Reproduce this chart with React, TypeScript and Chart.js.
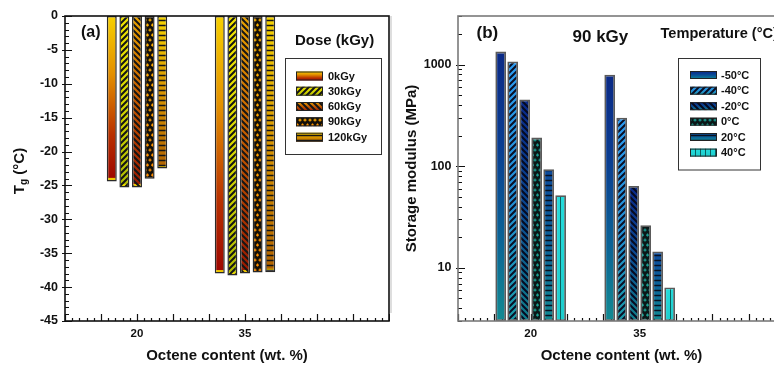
import React, { useEffect, useRef } from 'react';
import { Chart, registerables } from 'chart.js';

Chart.register(...registerables);

const FONT = '"Liberation Sans", Arial, Helvetica, sans-serif';

// ---------------- data ----------------
const octene = [20, 35];
const octeneMin = 10;
const octeneMax = 55;

const doseLabels = ['0kGy', '30kGy', '60kGy', '90kGy', '120kGy'];
const tg0kGy = [-24.4, -38.0];
const tg30kGy = [-25.3, -38.3];
const tg60kGy = [-25.3, -38.0];
const tg90kGy = [-24.0, -37.85];
const tg120kGy = [-22.5, -37.8];
const tgMin = -45;
const tgMax = 0;
const tgStep = 5;

const tempLabels = ['-50°C', '-40°C', '-20°C', '0°C', '20°C', '40°C'];
const modM50 = [1340, 793];
const modM40 = [1070, 299];
const modM20 = [453, 64];
const mod0 = [191, 26.2];
const mod20 = [93.4, 14.5];
const mod40 = [51.9, 6.4];
const modTicks = [10, 100, 1000];
const modMin = 3;
const modMax = 3000;

// ---------------- fills ----------------
type FillSpec = {
  kind: 'solid' | 'slash' | 'back' | 'dots' | 'hlines' | 'vlines';
  stops: [number, string][];
  ink?: string;
  lw?: number;
  gap?: number;
  tip?: string;
  bg?: string;
};

const doseFills: FillSpec[] = [
  { kind: 'solid', stops: [[0, '#f7d000'], [0.35, '#e39000'], [0.72, '#b83000'], [1, '#9c0500']], tip: '#f0c800' },
  { kind: 'slash', stops: [[0, '#f2e400'], [0.5, '#d8d800'], [1, '#b0bc00']], ink: '#151515', lw: 2, gap: 6, tip: '#f0e000' },
  { kind: 'back', stops: [[0, '#eaa400'], [0.45, '#c86000'], [1, '#9a1800']], ink: '#151515', lw: 2, gap: 6, tip: '#f0c800' },
  { kind: 'dots', stops: [[0, '#ffb400'], [1, '#ff8c00']], bg: '#151008' },
  { kind: 'hlines', stops: [[0, '#f6d400'], [0.5, '#d89400'], [1, '#b06200']], ink: '#151515', lw: 1.5, gap: 5, tip: '#e8c000' },
];

const tempFills: FillSpec[] = [
  { kind: 'solid', stops: [[0, '#0b2a86'], [0.35, '#0a3e92'], [0.7, '#0b6496'], [1, '#138a92']] },
  { kind: 'slash', stops: [[0, '#2c9cf2'], [0.55, '#2290d4'], [1, '#1a9aa6']], ink: '#0a0f25', lw: 2, gap: 6 },
  { kind: 'back', stops: [[0, '#0a2a8a'], [0.5, '#0b4a92'], [1, '#11808c']], ink: '#050a20', lw: 2, gap: 6 },
  { kind: 'dots', stops: [[0, '#1a9a92'], [1, '#1aa292']], bg: '#0a1818' },
  { kind: 'hlines', stops: [[0, '#0c4a9c'], [0.5, '#0b6298'], [1, '#118a92']], ink: '#081020', lw: 1.5, gap: 5 },
  { kind: 'vlines', stops: [[0, '#24dcdc'], [1, '#1ccccc']], ink: '#0a6060', lw: 1, gap: 5 },
];

const fillCache = new Map<string, CanvasPattern | string>();

function makeFill(chart: any, f: FillSpec, key: string, ya: number, yb: number, useTip: boolean) {
  const top = Math.min(ya, yb);
  const bot = Math.max(ya, yb);
  const k = `${chart.id}|${key}|${top.toFixed(1)}|${bot.toFixed(1)}|${useTip}`;
  const hit = fillCache.get(k);
  if (hit) return hit;
  const w = chart.width;
  const h = chart.height;
  const c = document.createElement('canvas');
  c.width = w;
  c.height = h;
  const g = c.getContext('2d')!;
  const grad = g.createLinearGradient(0, top, 0, Math.max(bot, top + 1));
  f.stops.forEach(([o, col]) => grad.addColorStop(o, col));
  if (f.kind === 'dots') {
    g.fillStyle = f.bg || '#111';
    g.fillRect(0, 0, w, h);
    g.fillStyle = grad;
    const s = 5;
    for (let y = 0, r = 0; y < h + s; y += s, r++) {
      for (let x = (r % 2) * 2.5; x < w + s; x += s) {
        g.fillRect(x - 1.5, y - 0.5, 3, 1.2);
        g.fillRect(x - 0.6, y - 1.5, 1.2, 3);
      }
    }
  } else {
    g.fillStyle = grad;
    g.fillRect(0, 0, w, h);
    if (useTip && f.tip) {
      g.fillStyle = f.tip;
      g.fillRect(0, bot - 3.5, w, 3.5);
    }
    if (f.kind !== 'solid') {
      g.strokeStyle = f.ink || '#111';
      g.lineWidth = f.lw || 1.5;
      const gap = f.gap || 5;
      g.beginPath();
      if (f.kind === 'slash') {
        for (let x = -h; x < w + h; x += gap) { g.moveTo(x, h); g.lineTo(x + h, 0); }
      } else if (f.kind === 'back') {
        for (let x = -h; x < w + h; x += gap) { g.moveTo(x, 0); g.lineTo(x + h, h); }
      } else if (f.kind === 'hlines') {
        for (let y = 0.5; y < h; y += gap) { g.moveTo(0, y); g.lineTo(w, y); }
      } else if (f.kind === 'vlines') {
        for (let x = 0.5; x < w; x += gap) { g.moveTo(x, 0); g.lineTo(x, h); }
      }
      g.stroke();
    }
  }
  const pat = chart.ctx.createPattern(c, 'no-repeat') as CanvasPattern;
  fillCache.set(k, pat);
  return pat;
}

function leftBg(f: FillSpec, key: string) {
  return (ctx: any) => {
    const chart = ctx.chart;
    if (ctx.type !== 'data' || !chart.chartArea || !chart.scales || !chart.scales.y) return f.stops[0][1];
    const ys = chart.scales.y;
    const v = ctx.parsed ? ctx.parsed.y : ctx.raw.y;
    return makeFill(chart, f, key, ys.getPixelForValue(0), ys.getPixelForValue(v), true);
  };
}

function rightBg(f: FillSpec, key: string) {
  return (ctx: any) => {
    const chart = ctx.chart;
    if (ctx.type !== 'data' || !chart.chartArea || !chart.scales || !chart.scales.y) return f.stops[0][1];
    const ys = chart.scales.y;
    const v = ctx.parsed ? ctx.parsed.y : ctx.raw.y;
    return makeFill(chart, f, key, ys.getPixelForValue(v), chart.chartArea.bottom, true);
  };
}

function text(ctx: CanvasRenderingContext2D, s: string, x: number, y: number, size: number, align: CanvasTextAlign = 'left') {
  ctx.font = `bold ${size}px ${FONT}`;
  ctx.fillStyle = '#111';
  ctx.textAlign = align;
  ctx.textBaseline = 'middle';
  ctx.fillText(s, x, y);
}

function zeroPad(s: any) {
  s.paddingTop = 0;
  s.paddingBottom = 0;
  s.paddingLeft = 0;
  s.paddingRight = 0;
}

const tickFont = (size: number) => ({ family: FONT, size, weight: 'bold' as const });

function drawXTicks(ctx: CanvasRenderingContext2D, chart: any) {
  const a = chart.chartArea;
  const xs = chart.scales.x;
  for (let v = octeneMin; v <= octeneMax; v++) {
    const p = Math.round(xs.getPixelForValue(v)) + 0.5;
    const major = v % 5 === 0;
    ctx.moveTo(p, a.bottom);
    ctx.lineTo(p, a.bottom - (major ? 7 : 3));
  }
}

const leftDecor = {
  id: 'leftDecor',
  beforeDatasetsDraw(chart: any) {
    const { ctx, chartArea: a, scales } = chart;
    const ys = scales.y;
    ctx.save();
    ctx.strokeStyle = '#111';
    ctx.lineWidth = 1.2;
    ctx.beginPath();
    for (let v = tgMin; v <= tgMax; v++) {
      const p = Math.round(ys.getPixelForValue(v)) + 0.5;
      const major = v % tgStep === 0;
      ctx.moveTo(a.left - (major ? 3 : 0), p);
      ctx.lineTo(a.left + (major ? 7 : 4), p);
    }
    drawXTicks(ctx, chart);
    ctx.stroke();
    ctx.restore();
  },
  afterDatasetsDraw(chart: any) {
    const { ctx, chartArea: a } = chart;
    ctx.save();
    ctx.strokeStyle = '#111';
    ctx.lineWidth = 1.6;
    ctx.strokeRect(a.left, a.top, a.right - a.left, a.bottom - a.top);
    ctx.restore();
  },
  afterDraw(chart: any) {
    const { ctx, chartArea: a } = chart;
    ctx.save();
    text(ctx, '(a)', 81, 33, 16);
    text(ctx, 'Dose (kGy)', 295, 41, 15);
    ctx.strokeStyle = '#333';
    ctx.lineWidth = 1;
    ctx.strokeRect(285.5, 58.5, 96, 96);
    const rows = [76, 91.2, 106.5, 121.8, 137.2];
    rows.forEach((ry, i) => {
      const sx = 296, sw = 27, sh = 9, sy = ry - 4.5;
      ctx.fillStyle = makeFill(chart, doseFills[i], 'Ld' + i, sy, sy + sh, false) as any;
      ctx.fillRect(sx, sy, sw, sh);
      ctx.strokeStyle = '#222';
      ctx.strokeRect(sx + 0.5, sy + 0.5, sw - 1, sh - 1);
      text(ctx, doseLabels[i], 328, ry + 0.5, 11);
    });
    // x title
    text(ctx, 'Octene content (wt. %)', (a.left + a.right) / 2, 356, 15, 'center');
    // y title with subscript
    ctx.translate(24, 171);
    ctx.rotate(-Math.PI / 2);
    ctx.textBaseline = 'alphabetic';
    ctx.textAlign = 'left';
    ctx.fillStyle = '#111';
    ctx.font = `bold 15px ${FONT}`;
    const wT = ctx.measureText('T').width;
    const wR = ctx.measureText(' (°C)').width;
    ctx.font = `bold 10px ${FONT}`;
    const wg = ctx.measureText('g').width;
    let x = -(wT + wg + wR) / 2;
    ctx.font = `bold 15px ${FONT}`;
    ctx.fillText('T', x, 0);
    x += wT;
    ctx.font = `bold 10px ${FONT}`;
    ctx.fillText('g', x, 3);
    x += wg;
    ctx.font = `bold 15px ${FONT}`;
    ctx.fillText(' (°C)', x, 0);
    ctx.restore();
  },
};

const rightDecor = {
  id: 'rightDecor',
  beforeDatasetsDraw(chart: any) {
    const { ctx, chartArea: a, scales } = chart;
    const ys = scales.y;
    ctx.save();
    ctx.strokeStyle = '#111';
    ctx.lineWidth = 1.2;
    ctx.beginPath();
    for (const d of [1, 10, 100, 1000]) {
      for (let m = 1; m <= 9; m++) {
        const v = m * d;
        if (v < modMin || v > modMax) continue;
        const p = Math.round(ys.getPixelForValue(v)) + 0.5;
        const major = m === 1;
        ctx.moveTo(a.left - (major ? 2 : 0), p);
        ctx.lineTo(a.left + (major ? 7 : 4), p);
      }
    }
    drawXTicks(ctx, chart);
    ctx.stroke();
    ctx.restore();
  },
  afterDatasetsDraw(chart: any) {
    const { ctx, chartArea: a } = chart;
    ctx.save();
    ctx.strokeStyle = '#7a7a7a';
    ctx.lineWidth = 1.6;
    ctx.strokeRect(a.left, a.top, a.right - a.left, a.bottom - a.top);
    ctx.restore();
  },
  afterDraw(chart: any) {
    const { ctx, chartArea: a } = chart;
    ctx.save();
    // faint frame line on the left
    ctx.strokeStyle = '#c8c8c8';
    ctx.lineWidth = 1.2;
    ctx.beginPath();
    ctx.moveTo(1, 16);
    ctx.lineTo(1, 313);
    ctx.stroke();
    text(ctx, '(b)', 86.5, 33, 17);
    text(ctx, '90 kGy', 182.5, 37, 17);
    text(ctx, 'Temperature (°C)', 270.5, 33.5, 14.6);
    ctx.strokeStyle = '#333';
    ctx.lineWidth = 1;
    ctx.strokeRect(288.5, 58.5, 82, 111.5);
    const rows = [75, 90.7, 106.2, 121.7, 137, 152.6];
    rows.forEach((ry, i) => {
      const sx = 300, sw = 27, sh = 8, sy = ry - 4;
      ctx.fillStyle = makeFill(chart, tempFills[i], 'Lt' + i, sy, sy + sh, false) as any;
      ctx.fillRect(sx, sy, sw, sh);
      ctx.strokeStyle = '#222';
      ctx.strokeRect(sx + 0.5, sy + 0.5, sw - 1, sh - 1);
      text(ctx, tempLabels[i], 331, ry + 0.5, 11);
    });
    text(ctx, 'Octene content (wt. %)', (a.left + a.right) / 2, 356, 15, 'center');
    ctx.translate(21.5, (a.top + a.bottom) / 2);
    ctx.rotate(-Math.PI / 2);
    text(ctx, 'Storage modulus (MPa)', 0, 0, 15, 'center');
    ctx.restore();
  },
};

function xScale(height: number) {
  return {
    type: 'linear' as const,
    min: octeneMin,
    max: octeneMax,
    offset: false,
    grid: { display: false, drawTicks: false, offset: false },
    border: { display: false },
    afterBuildTicks: (s: any) => { s.ticks = octene.map((v) => ({ value: v })); },
    afterFit: (s: any) => { s.height = height; zeroPad(s); },
    ticks: { font: tickFont(11.5), color: '#111', padding: 6, maxRotation: 0, autoSkip: false, callback: (v: any) => String(v) },
  };
}

export default function App() {
  const leftRef = useRef<HTMLCanvasElement>(null);
  const rightRef = useRef<HTMLCanvasElement>(null);

  useEffect(() => {
    const doseSeries = [tg0kGy, tg30kGy, tg60kGy, tg90kGy, tg120kGy];
    const left = new Chart(leftRef.current!, {
      type: 'bar',
      data: {
        datasets: doseSeries.map((vals, i) => ({
          label: doseLabels[i],
          data: octene.map((x, j) => ({ x, y: vals[j] })),
          backgroundColor: leftBg(doseFills[i], 'd' + i) as any,
          borderColor: '#2a2a2a',
          borderWidth: 1.5,
          borderSkipped: false,
          categoryPercentage: 0.584,
          barPercentage: 0.79,
        })),
      },
      options: {
        animation: false,
        responsive: false,
        devicePixelRatio: 1,
        layout: { padding: { top: 16, right: 1, left: 0, bottom: 0 } },
        plugins: { legend: { display: false }, tooltip: { enabled: false } },
        scales: {
          x: xScale(44) as any,
          y: {
            type: 'linear',
            min: tgMin,
            max: tgMax,
            grid: { display: false, drawTicks: false },
            border: { display: false },
            afterFit: (s: any) => { s.width = 65; zeroPad(s); },
            ticks: { stepSize: tgStep, font: tickFont(12.5), color: '#111', padding: 7 },
          },
        },
      },
      plugins: [leftDecor],
    });

    const tempSeries = [modM50, modM40, modM20, mod0, mod20, mod40];
    const right = new Chart(rightRef.current!, {
      type: 'bar',
      data: {
        datasets: tempSeries.map((vals, i) => ({
          label: tempLabels[i],
          data: octene.map((x, j) => ({ x, y: vals[j] })),
          backgroundColor: rightBg(tempFills[i], 't' + i) as any,
          borderColor: '#5a5a5a',
          borderWidth: 1.8,
          borderSkipped: false,
          categoryPercentage: 0.66,
          barPercentage: 0.89,
        })),
      },
      options: {
        animation: false,
        responsive: false,
        devicePixelRatio: 1,
        layout: { padding: { top: 16, right: 5, left: 0, bottom: 0 } },
        plugins: { legend: { display: false }, tooltip: { enabled: false } },
        scales: {
          x: xScale(44) as any,
          y: {
            type: 'logarithmic',
            min: modMin,
            max: modMax,
            grid: { display: false, drawTicks: false },
            border: { display: false },
            afterBuildTicks: (s: any) => { s.ticks = modTicks.map((v) => ({ value: v })); },
            afterFit: (s: any) => { s.width = 68; zeroPad(s); },
            ticks: { font: tickFont(12.5), color: '#111', padding: 6.5, callback: (v: any) => String(v) },
          },
        },
      },
      plugins: [rightDecor],
    });

    return () => {
      left.destroy();
      right.destroy();
    };
  }, []);

  return (
    <div style={{ position: 'fixed', left: 0, top: 0, width: 774, height: 365, overflow: 'hidden', background: '#fff' }}>
      <canvas ref={leftRef} width={390} height={365} style={{ position: 'absolute', left: 0, top: 0 }} />
      <canvas ref={rightRef} width={400} height={365} style={{ position: 'absolute', left: 390, top: 0 }} />
    </div>
  );
}
